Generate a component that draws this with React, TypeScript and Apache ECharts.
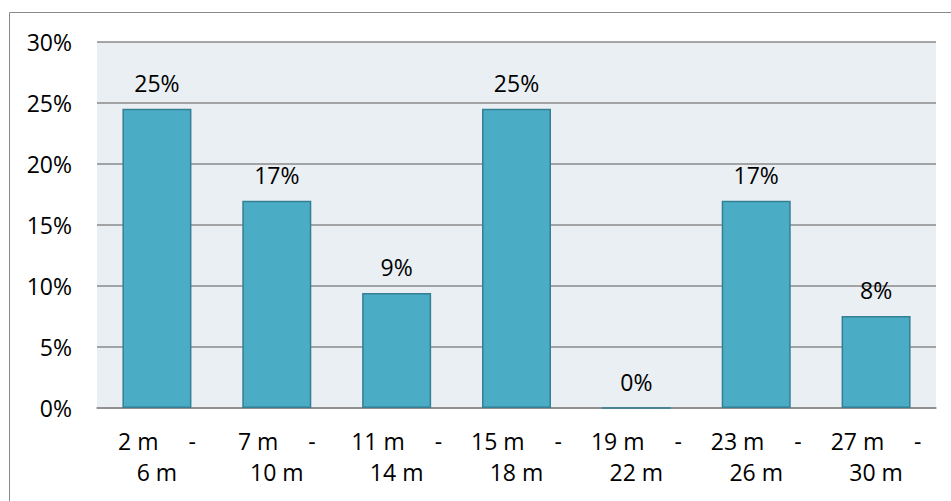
import React, { useEffect, useRef } from "react";
import * as echarts from "echarts";

const categoriesLine1 = ["2 m     -", "7 m     -", "11 m     -", "15 m     -", "19 m     -", "23 m     -", "27 m     -"];
const categoriesLine2 = ["6 m", "10 m", "14 m", "18 m", "22 m", "26 m", "30 m"];
const shareValues = [24.53, 16.98, 9.43, 24.53, 0, 16.98, 7.55];
const yTicks = { min: 0, max: 30, interval: 5 };

const FONT = "'Open Sans', sans-serif";
const FS = 23;

export default function App() {
  const ref = useRef<HTMLDivElement>(null);
  useEffect(() => {
    if (!ref.current) return;
    const chart = echarts.init(ref.current, null, { renderer: "svg" });
    const categories = categoriesLine1.map((a, i) => a + "\n" + categoriesLine2[i]);
    chart.setOption({
      animation: false,
      backgroundColor: "#ffffff",
      textStyle: { fontFamily: FONT },
      graphic: [
        {
          type: "rect",
          shape: { x: 9.5, y: 12.5, width: 1000, height: 600 },
          style: { fill: "none", stroke: "#8a8a8a", lineWidth: 1 },
          silent: true,
          z: 100,
        },
      ],
      grid: {
        left: 97,
        top: 42,
        right: 15,
        bottom: 93,
        show: true,
        backgroundColor: "#E9EFF3",
        borderWidth: 0,
      },
      xAxis: {
        type: "category",
        data: categories,
        axisLine: { show: true, lineStyle: { color: "#8a8a8a", width: 1.5 } },
        axisTick: { show: false },
        axisLabel: {
          interval: 0,
          color: "#000",
          fontFamily: FONT,
          fontSize: FS,
          lineHeight: 31,
          margin: 17,
        },
      },
      yAxis: {
        type: "value",
        min: yTicks.min,
        max: yTicks.max,
        interval: yTicks.interval,
        axisLine: { show: false },
        axisTick: { show: false },
        splitLine: { lineStyle: { color: "#8a8a8a", width: 1.5 } },
        axisLabel: {
          formatter: "{value}%",
          color: "#000",
          fontFamily: FONT,
          fontSize: FS,
          margin: 25,
        },
      },
      series: [
        {
          type: "bar",
          data: shareValues,
          barWidth: 69,
          itemStyle: { color: "#4BACC6", borderColor: "#357F94", borderWidth: 1.5 },
          label: {
            show: true,
            position: "top",
            distance: 14,
            color: "#000",
            fontFamily: FONT,
            fontSize: FS,
            formatter: (p: any) => Math.round(p.value) + "%",
          },
        },
      ],
    });
    return () => chart.dispose();
  }, []);
  return (
    <div
      ref={ref}
      style={{ position: "fixed", left: 0, top: 0, width: 951, height: 501 }}
    />
  );
}
